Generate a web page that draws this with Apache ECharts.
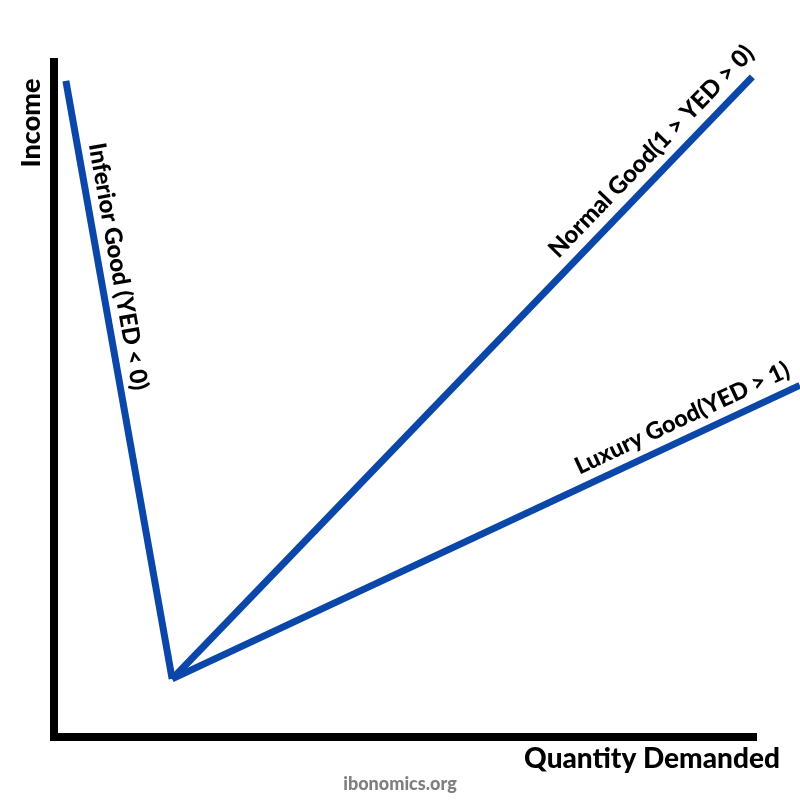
<!DOCTYPE html>
<html><head><meta charset="utf-8">
<script src="https://cdn.jsdelivr.net/npm/echarts@6/dist/echarts.min.js"></script>
<style>html,body{margin:0;padding:0;background:#fff}#c{width:800px;height:800px}</style>
</head><body><div id="c"></div>
<script>
// ---- data (arbitrary units: x 0..100 along Quantity axis, y 0..100 along Income axis)
const seriesNames = ['Inferior Good (YED < 0)', 'Normal Good(1 > YED > 0)', 'Luxury Good(YED > 1)'];
const inferiorPts = [[16.9, 8.6], [1.7, 97.2]];
const normalPts = [[16.9, 8.6], [99.9, 97.8]];
const luxuryPts = [[16.9, 8.6], [106.7, 52.1]];
const xAxisName = 'Quantity Demanded';
const yAxisName = 'Income';
const sourceText = 'ibonomics.org';

const BLUE = '#0a47a9';
const FONT = 'Lato';
const chart = echarts.init(document.getElementById('c'), null, {renderer: 'canvas'});

// grid 0 carries the visible axis lines; grid 1 (same scale, full width) carries the lines
const G = {left: 54, top: 62, bottom: 63};
const axisRight = 47;
const plotW = 800 - G.left - axisRight;
const fullW = 800 - G.left;
const xMaxFull = 100 * fullW / plotW;

function axisCfg(show, gi, max) {
  return {
    type: 'value', min: 0, max: max, gridIndex: gi, show: true,
    axisLine: {show: show, onZero: false, lineStyle: {color: '#000', width: 8, cap: 'square'}},
    axisTick: {show: false}, axisLabel: {show: false}, splitLine: {show: false}
  };
}
function lineSeries(name, pts) {
  return {
    name: name, type: 'line', data: pts, symbol: 'none', silent: true,
    xAxisIndex: 1, yAxisIndex: 1,
    lineStyle: {color: BLUE, width: 7, cap: 'butt'}, z: 3
  };
}
chart.setOption({
  animation: false,
  backgroundColor: '#fff',
  grid: [
    {left: G.left, right: axisRight, top: G.top, bottom: G.bottom},
    {left: G.left, right: 0, top: G.top, bottom: G.bottom}
  ],
  xAxis: [axisCfg(true, 0, 100), axisCfg(false, 1, xMaxFull)],
  yAxis: [axisCfg(true, 0, 100), axisCfg(false, 1, 100)],
  series: [
    lineSeries(seriesNames[0], inferiorPts),
    lineSeries(seriesNames[1], normalPts),
    lineSeries(seriesNames[2], luxuryPts)
  ]
});

// labels placed along each line via the chart's own coordinate conversion
function alongLabel(text, from, to, t, off, size) {
  const a = chart.convertToPixel({gridIndex: 1}, from);
  const b = chart.convertToPixel({gridIndex: 1}, to);
  const dx = b[0] - a[0], dy = b[1] - a[1];
  const len = Math.hypot(dx, dy);
  const ux = dx / len, uy = dy / len;
  const px = a[0] + dx * t + uy * off;
  const py = a[1] + dy * t - ux * off;
  return {
    type: 'text', x: px, y: py, rotation: -Math.atan2(dy, dx), silent: true, z: 10,
    style: {text: text, fill: '#000', font: '900 ' + size + 'px ' + FONT, align: 'center', verticalAlign: 'middle'}
  };
}
const vtx = inferiorPts[0];
chart.setOption({
  graphic: [
    // inferior text reads from the top end toward the vertex
    alongLabel(seriesNames[0], inferiorPts[1], vtx, 1 - 0.684, 19, 24),
    alongLabel(seriesNames[1], vtx, normalPts[1], 0.852, 21, 24),
    alongLabel(seriesNames[2], vtx, luxuryPts[1], 0.826, 20, 23.5),
    {type: 'text', x: 31.5, y: 123, rotation: Math.PI / 2, silent: true,
     style: {text: yAxisName, fill: '#000', font: '900 27px ' + FONT, align: 'center', verticalAlign: 'middle'}},
    {type: 'text', x: 652, y: 759, silent: true,
     style: {text: xAxisName, fill: '#000', font: '900 28px ' + FONT, align: 'center', verticalAlign: 'middle'}},
    {type: 'text', x: 400, y: 784, silent: true,
     style: {text: sourceText, fill: '#7f7f7f', font: '900 18px ' + FONT, align: 'center', verticalAlign: 'middle'}}
  ]
});
</script>
</body></html>
